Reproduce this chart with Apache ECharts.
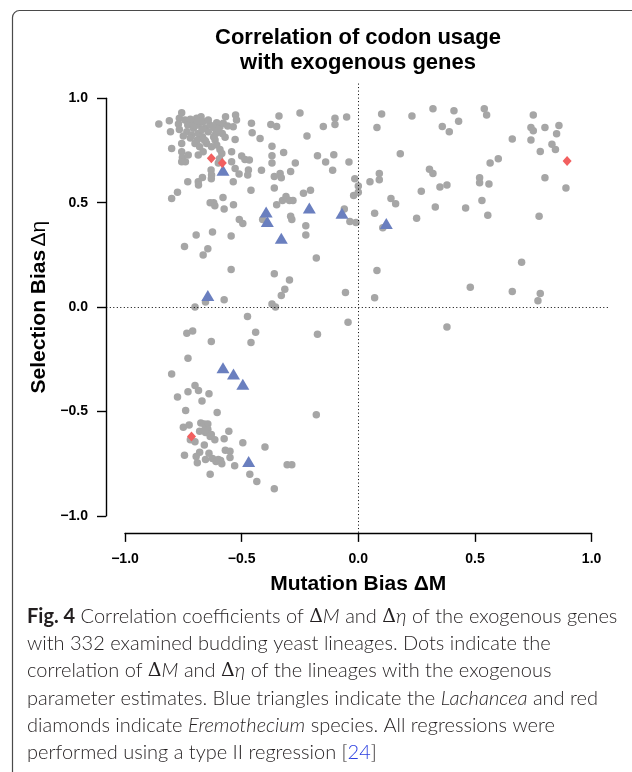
<!DOCTYPE html>
<html lang="en">
<head>
<meta charset="UTF-8">
<title>Correlation of codon usage</title>
<script src="https://cdn.jsdelivr.net/npm/echarts@6/dist/echarts.min.js"></script>
<style>
  html, body { margin: 0; padding: 0; background: #fff; }
  #chart { width: 632px; height: 772px; }
</style>
</head>
<body>
<div id="chart"></div>
<script>
// axis ticks
var xTicks = [-1, -0.5, 0, 0.5, 1];
var yTicks = [-1, -0.5, 0, 0.5, 1];
var tickLabels = ['\u22121.0', '\u22120.5', '0.0', '0.5', '1.0'];

// lineages: [delta M, delta eta]
var dots = [
  // right half
  [-0.05,0.91],[0.10,0.925],[0.08,0.86],[0.23,0.915],[0.32,0.95],[0.41,0.94],[0.43,0.89],[0.36,0.865],
  [0.39,0.84],[0.54,0.95],[0.55,0.92],[0.75,0.92],[0.74,0.86],[0.75,0.845],[0.80,0.86],[0.86,0.87],
  [0.85,0.83],[0.66,0.805],[0.74,0.80],[0.83,0.78],[0.845,0.755],[0.78,0.745],[0.60,0.71],[0.565,0.69],
  [0.18,0.735],[-0.04,0.695],[0.09,0.64],[0.09,0.61],[0.05,0.60],[-0.015,0.615],[0.00,0.58],[0.00,0.55],
  [-0.02,0.535],[0.305,0.66],[0.32,0.64],[0.27,0.555],[0.35,0.575],[0.38,0.585],[0.52,0.62],[0.52,0.595],
  [0.56,0.59],[0.80,0.62],[0.89,0.57],[0.14,0.52],[0.16,0.495],[0.33,0.48],[0.46,0.475],[0.53,0.51],
  [0.555,0.44],[0.775,0.435],[0.25,0.425],[0.07,0.45],[0.105,0.38],[-0.06,0.47],[-0.036,0.41],[-0.01,0.405],
  [0.08,0.175],[0.70,0.215],[-0.055,0.07],[0.07,0.045],[0.48,0.095],[0.66,0.075],[0.78,0.065],[0.77,0.03],
  [-0.044,-0.073],[0.38,-0.095],
  // upper left cluster
  [-0.855,0.877],[-0.81,0.893],[-0.805,0.84],[-0.757,0.931],[-0.767,0.904],[-0.771,0.877],[-0.767,0.851],
  [-0.743,0.896],[-0.731,0.872],[-0.735,0.84],[-0.714,0.883],[-0.707,0.856],[-0.714,0.824],[-0.693,0.904],
  [-0.686,0.872],[-0.674,0.912],[-0.665,0.888],[-0.658,0.856],[-0.686,0.832],[-0.668,0.816],[-0.643,0.84],
  [-0.636,0.872],[-0.643,0.896],[-0.70,0.784],[-0.68,0.768],[-0.65,0.784],[-0.629,0.768],[-0.614,0.80],
  [-0.607,0.776],[-0.593,0.755],[-0.611,0.832],[-0.607,0.883],[-0.593,0.864],[-0.579,0.88],[-0.569,0.912],
  [-0.56,0.867],[-0.536,0.864],[-0.526,0.92],[-0.522,0.896],[-0.583,0.832],[-0.571,0.813],[-0.528,0.803],
  [-0.543,0.744],[-0.585,0.736],[-0.757,0.784],[-0.757,0.744],[-0.754,0.717],[-0.741,0.696],[-0.757,0.696],
  [-0.729,0.728],[-0.80,0.76],[-0.686,0.728],[-0.665,0.744],[-0.543,0.696],[-0.50,0.724],[-0.486,0.707],
  [-0.467,0.704],[-0.528,0.664],[-0.511,0.637],[-0.471,0.657],[-0.474,0.633],[-0.631,0.657],[-0.629,0.633],
  [-0.668,0.621],[-0.686,0.60],[-0.731,0.60],[-0.536,0.60],[-0.458,0.88],[-0.455,0.835],[-0.421,0.808],
  [-0.72,0.81],[-0.69,0.80],[-0.655,0.795],[-0.62,0.815],[-0.60,0.69],[-0.70,0.87],[-0.67,0.85],[-0.69,0.89],
  [-0.62,0.86],[-0.72,0.90],[-0.66,0.80],[-0.75,0.82],[-0.60,0.85],[-0.595,0.71],
  // upper middle
  [-0.37,0.77],[-0.34,0.915],[-0.375,0.875],[-0.35,0.865],[-0.25,0.93],[-0.22,0.82],[-0.15,0.865],[-0.10,0.905],
  [-0.10,0.875],[-0.32,0.74],[-0.37,0.725],[-0.37,0.69],[-0.27,0.69],[-0.175,0.725],[-0.105,0.73],[-0.14,0.695],
  [-0.11,0.655],[-0.29,0.65],[-0.335,0.64],[-0.36,0.625],[-0.33,0.62],[-0.415,0.655],[-0.36,0.57],[-0.46,0.56],
  [-0.685,0.585],[-0.775,0.55],[-0.80,0.52],[-0.63,0.615],[-0.62,0.50],[-0.635,0.50],[-0.615,0.485],[-0.58,0.525],
  [-0.575,0.47],[-0.535,0.49],[-0.51,0.42],[-0.495,0.40],[-0.35,0.49],[-0.325,0.51],[-0.31,0.53],[-0.295,0.51],
  [-0.28,0.51],[-0.41,0.42],[-0.29,0.435],[-0.285,0.42],[-0.235,0.545],[-0.205,0.56],[-0.225,0.39],[-0.225,0.345],
  [-0.18,0.235],[-0.695,0.345],[-0.625,0.36],[-0.545,0.34],[-0.745,0.29],[-0.645,0.28],[-0.665,0.25],[-0.545,0.18],
  [-0.36,0.16],[-0.295,0.13],
  // lower left
  [-0.315,0.085],[-0.33,0.055],[-0.37,0.015],[-0.355,0.00],[-0.575,0.035],[-0.655,0.025],[-0.70,0.00],
  [-0.475,-0.045],[-0.44,-0.12],[-0.46,-0.17],[-0.175,-0.13],[-0.735,-0.125],[-0.71,-0.115],[-0.63,-0.165],
  [-0.73,-0.245],[-0.80,-0.32],[-0.70,-0.375],[-0.73,-0.405],[-0.685,-0.40],[-0.64,-0.415],[-0.775,-0.43],
  [-0.67,-0.45],[-0.74,-0.495],[-0.605,-0.505],[-0.18,-0.515],[-0.75,-0.575],[-0.725,-0.565],[-0.675,-0.555],
  [-0.66,-0.56],[-0.645,-0.56],[-0.645,-0.585],[-0.68,-0.595],[-0.655,-0.60],[-0.72,-0.635],[-0.70,-0.645],
  [-0.66,-0.66],[-0.635,-0.62],[-0.615,-0.635],[-0.575,-0.63],[-0.555,-0.595],[-0.495,-0.65],[-0.40,-0.67],
  [-0.57,-0.685],[-0.55,-0.69],[-0.68,-0.695],[-0.745,-0.71],[-0.695,-0.715],[-0.69,-0.745],[-0.655,-0.73],
  [-0.625,-0.725],[-0.61,-0.74],[-0.59,-0.735],[-0.585,-0.75],[-0.55,-0.72],[-0.53,-0.76],[-0.465,-0.80],
  [-0.635,-0.80],[-0.435,-0.835],[-0.36,-0.87],[-0.305,-0.755],[-0.285,-0.755],
  [-0.66,-0.59],[-0.63,-0.61],[-0.64,-0.70],[-0.60,-0.73]
];

// Lachancea (blue triangles)
var lachancea = [
  [-0.58,0.655],[-0.395,0.455],[-0.39,0.41],[-0.33,0.33],[-0.21,0.475],[-0.07,0.45],[0.12,0.40],
  [-0.645,0.055],[-0.58,-0.29],[-0.535,-0.32],[-0.495,-0.37],[-0.47,-0.74]
];

// Eremothecium (red diamonds)
var eremothecium = [
  [-0.63,0.713],[-0.583,0.69],[0.895,0.70],[-0.715,-0.62]
];

var titleLines = ['Correlation of codon usage', 'with exogenous genes'];

var captionLines = [
  '{b|Fig. 4} Correlation coefficients of {d|\u0394}{m|M} and {d|\u0394}{m|\u03b7} of the exogenous genes',
  'with 332 examined budding yeast lineages. Dots indicate the',
  'correlation of {d|\u0394}{m|M} and {d|\u0394}{m|\u03b7} of the lineages with the exogenous',
  'parameter estimates. Blue triangles indicate the {i|Lachancea} and red',
  'diamonds indicate {i|Eremothecium} species. All regressions were',
  'performed using a type II regression [{l|24}]'
];

var capFont = 'Lato, "Open Sans", sans-serif';
var capSize = 20;
var capColor = '#231f20';

function tickLabel(v) {
  for (var i = 0; i < xTicks.length; i++) {
    if (Math.abs(xTicks[i] - v) < 1e-9) return tickLabels[i];
  }
  return '';
}

var chart = echarts.init(document.getElementById('chart'), null, { renderer: 'canvas' });

var axisFont = { fontFamily: '"Liberation Sans", Arial, sans-serif', fontWeight: 'bold', color: '#000' };

var option = {
  animation: false,
  backgroundColor: '#fff',
  graphic: [{
    type: 'rect',
    z: -10,
    shape: { x: 12.5, y: 10.5, width: 720, height: 800, r: 7 },
    style: { fill: 'none', stroke: '#4a4a4a', lineWidth: 1.2 }
  }],
  title: [{
    text: titleLines.join('\n'),
    left: 358,
    top: 25,
    textAlign: 'center',
    padding: 0,
    textStyle: {
      fontFamily: '"Liberation Sans", Arial, sans-serif',
      fontWeight: 'bold',
      fontSize: 22,
      lineHeight: 25,
      color: '#000'
    }
  }, {
    text: captionLines.join('\n'),
    left: 27,
    top: 603,
    padding: 0,
    textStyle: {
      fontFamily: capFont,
      fontWeight: 300,
      fontSize: capSize,
      lineHeight: 27.2,
      color: capColor,
      rich: {
        b: { fontFamily: capFont, fontWeight: 'bold', fontSize: capSize, lineHeight: 27.2, color: capColor },
        i: { fontFamily: capFont, fontStyle: 'italic', fontWeight: 300, fontSize: capSize, lineHeight: 27.2, color: capColor },
        d: { fontFamily: '"DejaVu Serif", serif', fontSize: capSize - 1, lineHeight: 27.2, color: capColor },
        m: { fontFamily: capFont, fontStyle: 'italic', fontWeight: 300, fontSize: capSize, lineHeight: 27.2, color: capColor },
        l: { fontFamily: capFont, fontWeight: 300, fontSize: capSize, lineHeight: 27.2, color: '#2b3fe0' }
      }
    }
  }],
  grid: [
    { left: 125, width: 466.6, top: 98.3, height: 417.6 },
    { left: 106.3, width: 504, top: 81.6, height: 451 }
  ],
  xAxis: [{
    gridIndex: 0,
    type: 'value',
    min: -1, max: 1, interval: 0.5,
    position: 'bottom',
    offset: 17,
    axisLine: { show: true, onZero: false, lineStyle: { color: '#000', width: 1.4 } },
    axisTick: { show: true, inside: false, length: 9, lineStyle: { color: '#000', width: 1.4 } },
    axisLabel: Object.assign({ fontSize: 14, margin: 19, formatter: tickLabel }, axisFont),
    splitLine: { show: false },
    name: 'Mutation Bias \u0394M',
    nameLocation: 'middle',
    nameGap: 41,
    nameTextStyle: Object.assign({ fontSize: 21 }, axisFont)
  }, {
    gridIndex: 1,
    type: 'value',
    min: -1.08, max: 1.08,
    show: false
  }],
  yAxis: [{
    gridIndex: 0,
    type: 'value',
    min: -1, max: 1, interval: 0.5,
    position: 'left',
    offset: 19,
    axisLine: { show: true, onZero: false, lineStyle: { color: '#000', width: 1.4 } },
    axisTick: { show: true, inside: false, length: 9, lineStyle: { color: '#000', width: 1.4 } },
    axisLabel: Object.assign({ fontSize: 14, margin: 18, formatter: tickLabel }, axisFont),
    splitLine: { show: false },
    name: '{b|Selection Bias} {r|\u0394\u03b7}',
    nameLocation: 'middle',
    nameRotate: 90,
    nameGap: 48,
    nameTextStyle: {
      rich: {
        b: { fontFamily: '"Liberation Sans", Arial, sans-serif', fontWeight: 'bold', fontSize: 21, color: '#000' },
        r: { fontFamily: '"Liberation Sans", Arial, sans-serif', fontWeight: 'normal', fontSize: 21, color: '#000' }
      }
    }
  }, {
    gridIndex: 1,
    type: 'value',
    min: -1.08, max: 1.08,
    show: false
  }],
  series: [{
    type: 'scatter',
    xAxisIndex: 1,
    yAxisIndex: 1,
    data: [],
    silent: true,
    z: 1,
    markLine: {
      silent: true,
      symbol: ['none', 'none'],
      label: { show: false },
      lineStyle: { color: '#000', type: [1, 2.5], width: 1 },
      data: [{ xAxis: 0 }, { yAxis: 0 }]
    }
  }, {
    type: 'scatter',
    xAxisIndex: 0,
    yAxisIndex: 0,
    data: dots,
    symbol: 'circle',
    symbolSize: 7.5,
    clip: false,
    z: 2,
    itemStyle: { color: '#a6a6a6', opacity: 1 }
  }, {
    type: 'scatter',
    xAxisIndex: 0,
    yAxisIndex: 0,
    data: lachancea,
    symbol: 'triangle',
    symbolSize: [13, 11],
    clip: false,
    z: 3,
    itemStyle: { color: '#6a7fbf', opacity: 1 }
  }, {
    type: 'scatter',
    xAxisIndex: 0,
    yAxisIndex: 0,
    data: eremothecium,
    symbol: 'diamond',
    symbolSize: [9, 10],
    clip: false,
    z: 4,
    itemStyle: { color: '#f25f5f', opacity: 1 }
  }]
};

chart.setOption(option);
</script>
</body>
</html>
